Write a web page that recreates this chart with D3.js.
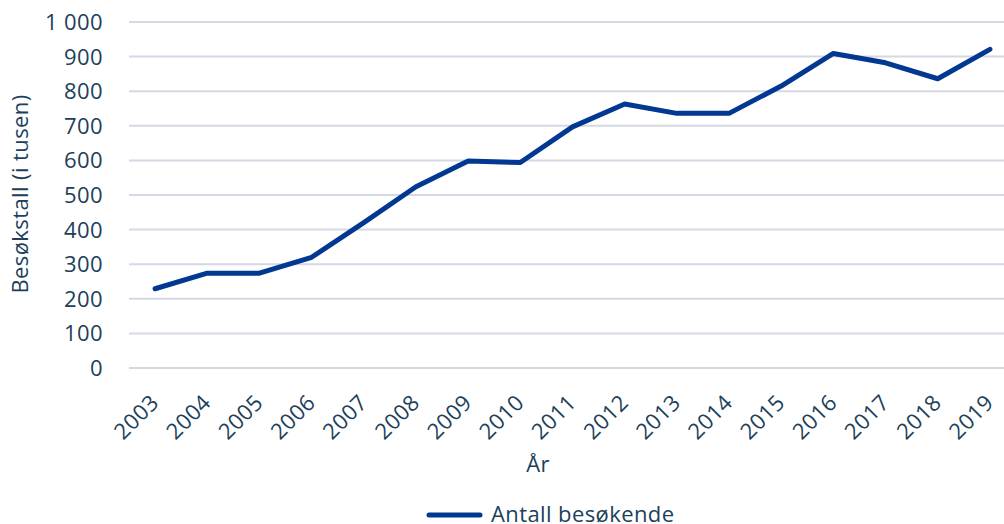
<!DOCTYPE html>
<html>
<head>
<meta charset="utf-8">
<script src="https://cdn.jsdelivr.net/npm/d3@7"></script>
<style>
  body { margin: 0; background: #fff; }
  text { font-family: "Open Sans", sans-serif; fill: #203f5a; letter-spacing: 0.4px; }
</style>
</head>
<body>
<div id="chart"></div>
<script>
// data
var years = ["2003", "2004", "2005", "2006", "2007", "2008", "2009", "2010", "2011",
  "2012", "2013", "2014", "2015", "2016", "2017", "2018", "2019"];
var visitors = [229, 274, 274, 320, 420, 524, 598, 594, 697, 763, 736, 736, 815, 909, 882, 836, 921];
var yTicks = [0, 100, 200, 300, 400, 500, 600, 700, 800, 900, 1000];
var seriesName = "Antall besøkende";

var width = 1004, height = 524;
var plot = { left: 129, right: 1016, top: 22, bottom: 368 };
var fontSize = "22px";

var svg = d3.select("#chart")
  .append("svg")
  .attr("width", width)
  .attr("height", height);

var xScale = d3.scaleBand()
  .domain(years)
  .range([plot.left, plot.right]);

var yScale = d3.scaleLinear()
  .domain([0, 1000])
  .range([plot.bottom, plot.top]);

var fmt = d => d3.format(",")(d).replace(",", " ");

// gridlines
svg.append("g")
  .selectAll("line")
  .data(yTicks)
  .enter().append("line")
  .attr("x1", plot.left)
  .attr("x2", plot.right)
  .attr("y1", d => yScale(d))
  .attr("y2", d => yScale(d))
  .attr("stroke", "#d6d8e4")
  .attr("stroke-width", 2);

// y tick labels
svg.append("g")
  .selectAll("text")
  .data(yTicks)
  .enter().append("text")
  .attr("x", 103)
  .attr("y", d => yScale(d))
  .attr("dy", "0.36em")
  .attr("text-anchor", "end")
  .style("font-size", fontSize)
  .text(fmt);

// x tick labels
svg.append("g")
  .selectAll("text")
  .data(years)
  .enter().append("text")
  .attr("transform", d => "translate(" + (xScale(d) + xScale.bandwidth() / 2 + 5) + ",404) rotate(-45)")
  .attr("text-anchor", "end")
  .style("font-size", fontSize)
  .text(d => d);

// axis titles
svg.append("text")
  .attr("x", 538)
  .attr("y", 472)
  .attr("text-anchor", "middle")
  .style("font-size", fontSize)
  .text("År");

svg.append("text")
  .attr("transform", "translate(28,194) rotate(-90)")
  .attr("text-anchor", "middle")
  .style("font-size", fontSize)
  .text("Besøkstall (i tusen)");

// line
var line = d3.line()
  .x((d, i) => xScale(years[i]) + xScale.bandwidth() / 2)
  .y(d => yScale(d));

svg.append("path")
  .datum(visitors)
  .attr("d", line)
  .attr("fill", "none")
  .attr("stroke", "#023891")
  .attr("stroke-width", 5)
  .attr("stroke-linejoin", "round")
  .attr("stroke-linecap", "round");

// legend
var legend = svg.append("g");
legend.append("line")
  .attr("x1", 429)
  .attr("x2", 480)
  .attr("y1", 515)
  .attr("y2", 515)
  .attr("stroke", "#023891")
  .attr("stroke-width", 5)
  .attr("stroke-linecap", "round");
legend.append("text")
  .attr("x", 491)
  .attr("y", 522)
  .style("font-size", fontSize)
  .text(seriesName);
</script>
</body>
</html>
